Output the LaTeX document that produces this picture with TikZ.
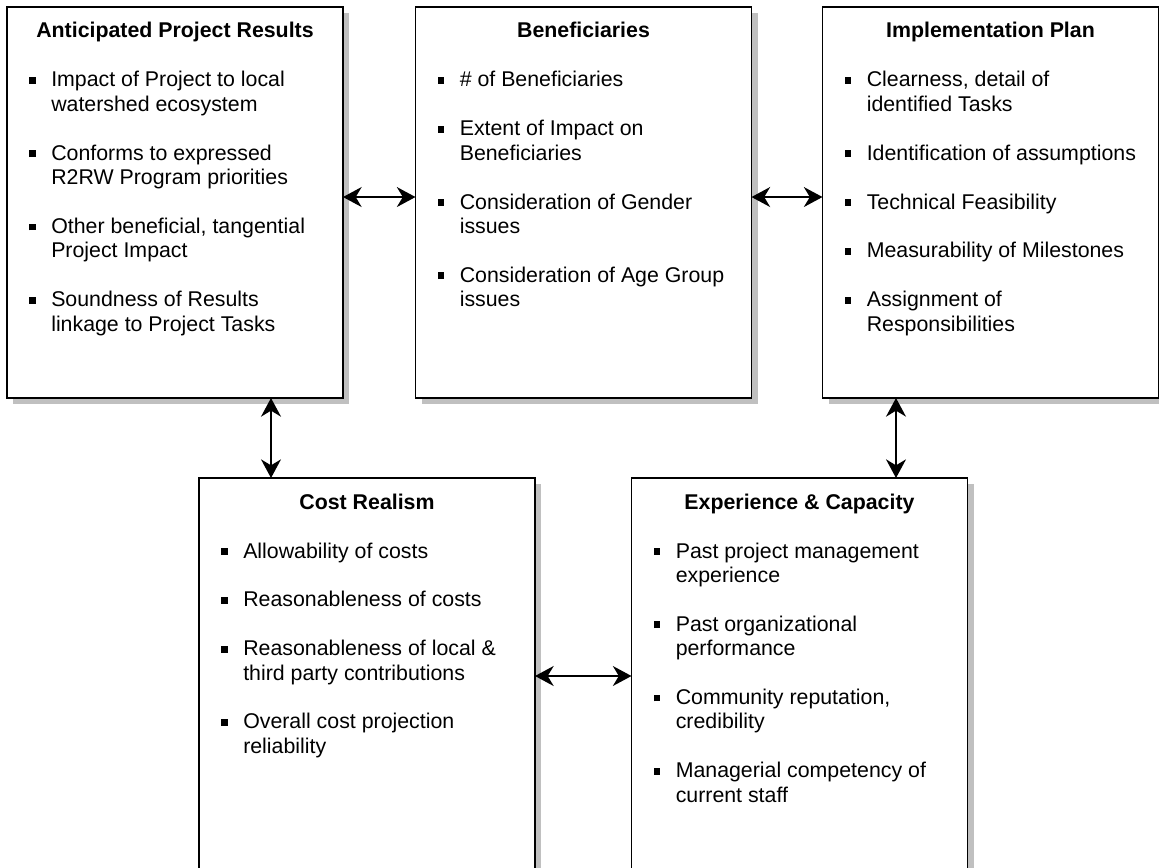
\documentclass[tikz,border=0pt]{standalone}
\usepackage{fontspec}
\setmainfont{Liberation Sans}
\usetikzlibrary{arrows.meta,shadows}
\definecolor{shadowgray}{HTML}{C0C0C0}
\newcommand{\blt}{\raisebox{2.3pt}{\rule{5pt}{5pt}}}
\newcommand{\txtfont}{\fontsize{16pt}{18.3pt}\selectfont}
\begin{document}
\begin{tikzpicture}[x=0.75pt,y=-0.75pt,
  box/.style={draw, line width=1.3pt, fill=white, rectangle, inner sep=0pt, outer sep=0pt,
    minimum width=252pt, minimum height=293.25pt,
    general shadow={fill=shadowgray, shadow xshift=4.5pt, shadow yshift=-4.5pt}},
  lowbox/.style={box, minimum height=297pt},
  ttl/.style={anchor=base, inner sep=0pt, font=\bfseries\txtfont},
  lst/.style={anchor=base west, inner sep=0pt, font=\txtfont},
  arr/.style={line width=1.1pt, {Stealth[length=14pt,width=15pt,inset=4.5pt]}-{Stealth[length=14pt,width=15pt,inset=4.5pt]}}
]
\useasboundingbox (0,0) rectangle (1159,867);
\clip (0,0) rectangle (1159,867);

\node[box] (b1) at (175,202.5) {};
\node[box] (b2) at (583.5,202.5) {};
\node[box] (b3) at (990.5,202.5) {};
\node[lowbox] (b4) at (367,676) {};
\node[lowbox] (b5) at (799.5,676) {};

\node[ttl] (t1) at ([yshift=-23.25pt]b1.north) {Anticipated Project Results};
\node[ttl] (t2) at ([yshift=-23.25pt]b2.north) {Beneficiaries};
\node[ttl] (t3) at ([yshift=-23.25pt]b3.north) {Implementation Plan};
\node[ttl] (t4) at ([yshift=-23.25pt]b4.north) {Cost Realism};
\node[ttl] (t5) at ([yshift=-23.25pt]b5.north) {Experience \& Capacity};

\node[lst] (l1) at ([xshift=16.5pt,yshift=-60pt]b1.north west) {%
\begin{tabular}[t]{@{}p{16.5pt}@{}l@{}}
\blt & Impact of Project to local\\
     & watershed ecosystem\\
     & \\
\blt & Conforms to expressed\\
     & R2RW Program priorities\\
     & \\
\blt & Other beneficial, tangential\\
     & Project Impact\\
     & \\
\blt & Soundness of Results\\
     & linkage to Project Tasks
\end{tabular}};

\node[lst] (l2) at ([xshift=16.5pt,yshift=-60pt]b2.north west) {%
\begin{tabular}[t]{@{}p{16.5pt}@{}l@{}}
\blt & \# of Beneficiaries\\
     & \\
\blt & Extent of Impact on\\
     & Beneficiaries\\
     & \\
\blt & Consideration of Gender\\
     & issues\\
     & \\
\blt & Consideration of Age Group\\
     & issues
\end{tabular}};

\node[lst] (l3) at ([xshift=16.5pt,yshift=-60pt]b3.north west) {%
\begin{tabular}[t]{@{}p{16.5pt}@{}l@{}}
\blt & Clearness, detail of\\
     & identified Tasks\\
     & \\
\blt & Identification of assumptions\\
     & \\
\blt & Technical Feasibility\\
     & \\
\blt & Measurability of Milestones\\
     & \\
\blt & Assignment of\\
     & Responsibilities
\end{tabular}};

\node[lst] (l4) at ([xshift=16.5pt,yshift=-60pt]b4.north west) {%
\begin{tabular}[t]{@{}p{16.5pt}@{}l@{}}
\blt & Allowability of costs\\
     & \\
\blt & Reasonableness of costs\\
     & \\
\blt & Reasonableness of local \&\\
     & third party contributions\\
     & \\
\blt & Overall cost projection\\
     & reliability
\end{tabular}};

\node[lst] (l5) at ([xshift=16.5pt,yshift=-60pt]b5.north west) {%
\begin{tabular}[t]{@{}p{16.5pt}@{}l@{}}
\blt & Past project management\\
     & experience\\
     & \\
\blt & Past organizational\\
     & performance\\
     & \\
\blt & Community reputation,\\
     & credibility\\
     & \\
\blt & Managerial competency of\\
     & current staff
\end{tabular}};

\coordinate (v1) at (271,0);
\coordinate (v2) at (896,0);

\draw[arr] ([yshift=4.1pt]b1.east) -- ([yshift=4.1pt]b2.west);
\draw[arr] ([yshift=4.1pt]b2.east) -- ([yshift=4.1pt]b3.west);
\draw[arr] (b1.south -| v1) -- (b4.north -| v1);
\draw[arr] (b3.south -| v2) -- (b5.north -| v2);
\draw[arr] (b4.east) -- (b5.west);
\end{tikzpicture}
\end{document}
